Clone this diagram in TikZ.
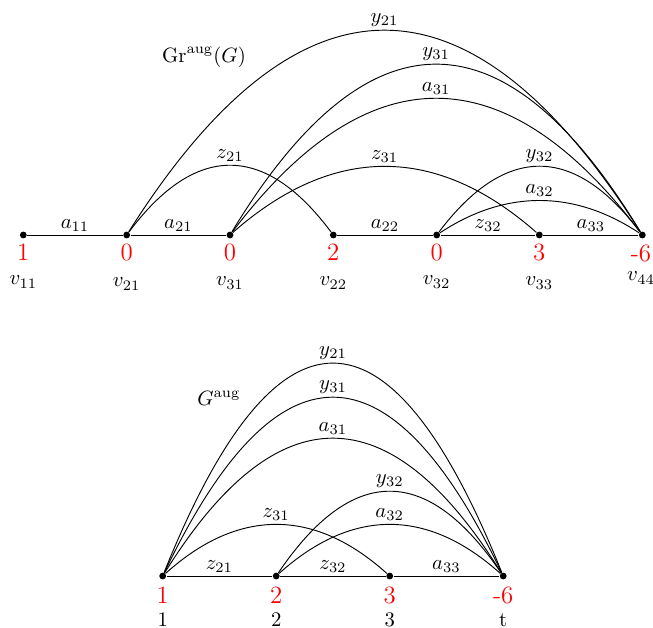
\documentclass[tikz,border=0pt]{standalone}
\usepackage{xcolor}
\begin{document}
\begin{tikzpicture}[x=0.483pt,y=-0.483pt,
  dot/.style={circle,fill=black,inner sep=0pt,minimum size=3.3pt},
  num/.style={text=red,font=\large,inner sep=0pt},
  lab/.style={inner sep=0pt},
  elab/.style={midway,above,inner sep=1.5pt},
  arc/.style={line width=0.45pt}]
\useasboundingbox (0,0) rectangle (653,628);

% ---------- top graph ----------
\node[dot] (v11) at (23.3,235) {};
\node[dot] (v21) at (126.7,235) {};
\node[dot] (v31) at (230,235) {};
\node[dot] (v22) at (333.3,235) {};
\node[dot] (v32) at (436.7,235) {};
\node[dot] (v33) at (539.3,235) {};
\node[dot] (v44) at (642.3,235) {};

\node[num] (n11) at (23.3,252) {1};
\node[num] (n21) at (126.7,252) {0};
\node[num] (n31) at (230,252) {0};
\node[num] (n22) at (333.3,252) {2};
\node[num] (n32) at (436.7,252) {0};
\node[num] (n33) at (539.3,252) {3};
\node[num] (n44) at (641,253) {-6};

\node[lab] (l11) at (23.3,282) {$v_{11}$};
\node[lab] (l21) at (126.7,284) {$v_{21}$};
\node[lab] (l31) at (230,283) {$v_{31}$};
\node[lab] (l22) at (333.3,283) {$v_{22}$};
\node[lab] (l32) at (436.7,282) {$v_{32}$};
\node[lab] (l33) at (539.3,283) {$v_{33}$};
\node[lab] (l44) at (641,278) {$v_{44}$};

\node[lab] (title1) at (204,57) {$\mathrm{Gr}^{\mathrm{aug}}(G)$};

\draw[arc] (v11) -- node[elab]{$a_{11}$} (v21);
\draw[arc] (v21) -- node[elab]{$a_{21}$} (v31);
\draw[arc] (v22) -- node[elab]{$a_{22}$} (v32);
\draw[arc] (v32) -- node[elab]{$z_{32}$} (v33);
\draw[arc] (v33) -- node[elab]{$a_{33}$} (v44);

\draw[arc] (v21) .. controls +(171.7,-272) and +(-171.7,-272) .. node[elab]{$y_{21}$} (v44);
\draw[arc] (v31) .. controls +(137.3,-226.7) and +(-137.3,-226.7) .. node[elab]{$y_{31}$} (v44);
\draw[arc] (v31) .. controls +(137.3,-181.3) and +(-137.3,-181.3) .. node[elab]{$a_{31}$} (v44);
\draw[arc] (v21) .. controls +(68.7,-92) and +(-68.7,-92) .. node[elab]{$z_{21}$} (v22);
\draw[arc] (v31) .. controls +(103,-90.7) and +(-103,-90.7) .. node[elab]{$z_{31}$} (v33);
\draw[arc] (v32) .. controls +(68.5,-90.7) and +(-68.5,-90.7) .. node[elab]{$y_{32}$} (v44);
\draw[arc] (v32) .. controls +(68.5,-45.3) and +(-68.5,-45.3) .. node[elab]{$a_{32}$} (v44);

% ---------- bottom graph ----------
\node[dot] (b1) at (162.7,576) {};
\node[dot] (b2) at (276.2,576) {};
\node[dot] (b3) at (389.7,576) {};
\node[dot] (bt) at (503.2,576) {};

\node[num] (m1) at (162.7,595) {1};
\node[num] (m2) at (276.2,595) {2};
\node[num] (m3) at (389.7,595) {3};
\node[num] (mt) at (503.2,595) {-6};

\node[lab] (k1) at (162.7,620) {1};
\node[lab] (k2) at (276.2,620) {2};
\node[lab] (k3) at (389.7,620) {3};
\node[lab] (kt) at (503.2,620) {t};

\node[lab] (title2) at (219,398) {$G^{\mathrm{aug}}$};

\draw[arc] (b1) -- node[elab]{$z_{21}$} (b2);
\draw[arc] (b2) -- node[elab]{$z_{32}$} (b3);
\draw[arc] (b3) -- node[elab]{$a_{33}$} (bt);

\draw[arc] (b1) .. controls +(113.5,-282.7) and +(-113.5,-282.7) .. node[elab]{$y_{21}$} (bt);
\draw[arc] (b1) .. controls +(113.5,-237.3) and +(-113.5,-237.3) .. node[elab]{$y_{31}$} (bt);
\draw[arc] (b1) .. controls +(113.5,-182.7) and +(-113.5,-182.7) .. node[elab]{$a_{31}$} (bt);
\draw[arc] (b2) .. controls +(75.8,-112) and +(-75.8,-112) .. node[elab]{$y_{32}$} (bt);
\draw[arc] (b2) .. controls +(75.8,-68) and +(-75.8,-68) .. node[elab]{$a_{32}$} (bt);
\draw[arc] (b1) .. controls +(75.5,-68) and +(-75.5,-68) .. node[elab]{$z_{31}$} (b3);
\end{tikzpicture}
\end{document}
